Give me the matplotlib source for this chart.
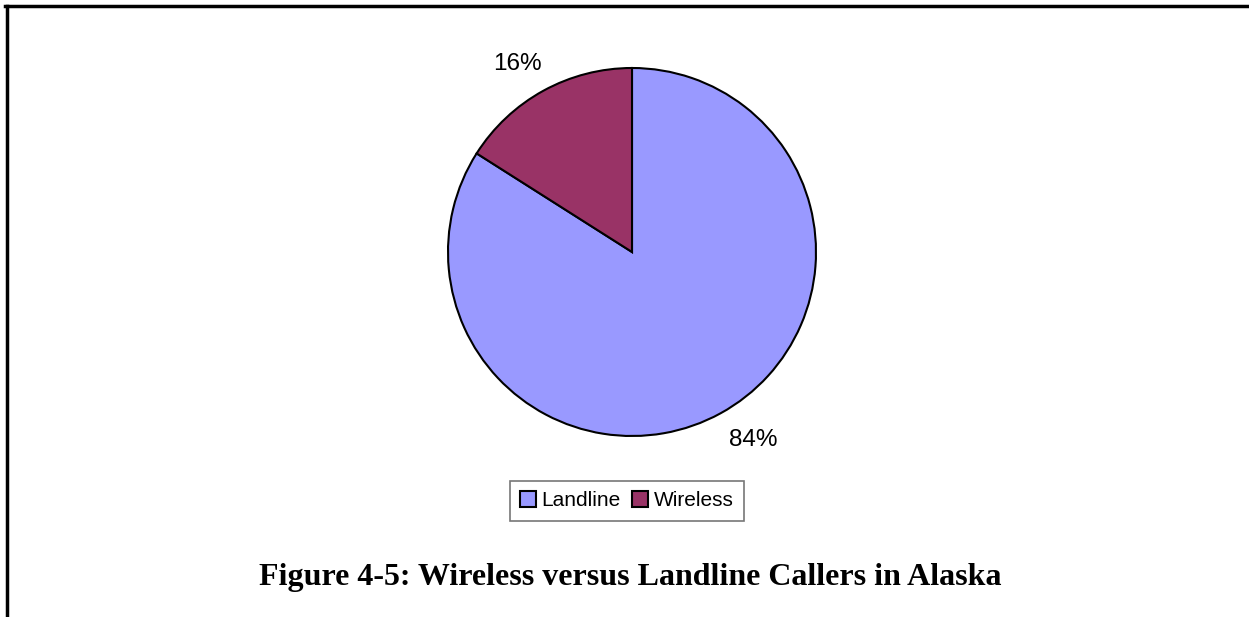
import matplotlib.pyplot as plt
from matplotlib.lines import Line2D

# share of 911 callers by phone type
labels = ['Landline', 'Wireless']
shares = [84, 16]
colors = ['#9999FF', '#993366']

W, H = 1249, 617


def main():
    fig = plt.figure(figsize=(W / 100, H / 100), dpi=100)
    fig.patch.set_facecolor('white')

    # pie axes: center (632, 252), radius 184 px
    cx, cy, r = 632, 252, 184
    ax = fig.add_axes([(cx - r) / W, 1 - (cy + r) / H, 2 * r / W, 2 * r / H])
    wedges, texts = ax.pie(shares, colors=colors, startangle=90, counterclock=False,
                           wedgeprops=dict(edgecolor='black', linewidth=1.5),
                           radius=1.0)
    ax.set_xlim(-1.0, 1.0)
    ax.set_ylim(-1.0, 1.0)
    ax.set_aspect('equal')
    ax.axis('off')

    # percentage labels outside the slices
    fig.text(517 / W, 1 - 64 / H, f'{shares[1]}%', ha='center', va='center',
             fontsize=17.5, family='Liberation Sans')
    fig.text(753 / W, 1 - 440 / H, f'{shares[0]}%', ha='center', va='center',
             fontsize=17.5, family='Liberation Sans')

    # legend
    handles = [Line2D([], [], marker='s', linestyle='none', markersize=11,
                      markerfacecolor=c, markeredgecolor='black', markeredgewidth=1.5)
               for c in colors]
    leg = fig.legend(handles, labels, loc='center', bbox_to_anchor=(627 / W, 1 - 501 / H),
                     ncol=2, frameon=True, fancybox=False, handlelength=0.7,
                     handletextpad=0.3, columnspacing=0.6, borderpad=0.5,
                     prop=dict(family='Liberation Sans', size=15))
    leg.get_frame().set_edgecolor('#555555')
    leg.get_frame().set_linewidth(1.2)

    # caption
    fig.text(630 / W, 1 - 578 / H, 'Figure 4-5: Wireless versus Landline Callers in Alaska',
             ha='center', va='center', fontsize=23, fontweight='bold',
             family='Liberation Serif')

    # page border on top and left
    fig.add_artist(Line2D([6.5 / W, 6.5 / W], [0, 1 - 6 / H], color='black', linewidth=2.5))
    fig.add_artist(Line2D([5 / W, 1], [1 - 6 / H, 1 - 6 / H], color='black', linewidth=2.5))

    fig.savefig('out.png', dpi=100)


if __name__ == '__main__':
    main()
